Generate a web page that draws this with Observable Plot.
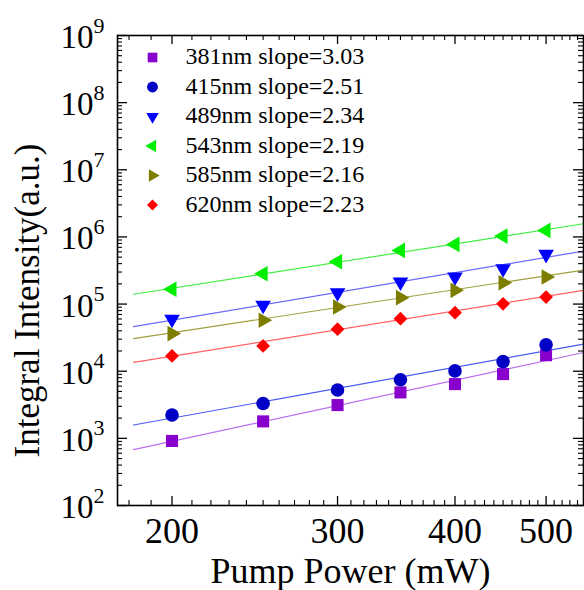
<!DOCTYPE html>
<html><head><meta charset="utf-8">
<script src="https://cdn.jsdelivr.net/npm/d3@7"></script>
<script src="https://cdn.jsdelivr.net/npm/@observablehq/plot@0.6"></script>
<style>body{margin:0;background:#fff}</style>
</head><body><div id="chart"></div>
<script>
// ---- data ----
const power = [200, 250, 300, 350, 400, 450, 500];
const names = ["381nm slope=3.03", "415nm slope=2.51", "489nm slope=2.34", "543nm slope=2.19", "585nm slope=2.16", "620nm slope=2.23"];
const i381 = [915, 1790, 3130, 4830, 6430, 9060, 17300];
const i415 = [2230, 3310, 5240, 7450, 10100, 13900, 24700];
const i489 = [59400, 96000, 148000, 213000, 253000, 336000, 550000];
const i543 = [166000, 283000, 427000, 630000, 774000, 1030000, 1250000];
const i585 = [36300, 57400, 90600, 124500, 160000, 208000, 253000];
const i620 = [16900, 23800, 42200, 60700, 74500, 101000, 127000];
// fitted lines: value at the start power and at the end power
const fitPower = [182, 548];
const fitStart = [680, 1580, 46200, 140000, 30600, 13500];
const fitEnd = [19000, 25300, 615000, 1570000, 321000, 160000];
const xTicks = [200, 300, 400, 500];
const yTicks = [1e2, 1e3, 1e4, 1e5, 1e6, 1e7, 1e8, 1e9];

// ---- styles ----
const markColor = ["#8800cc", "#0000c4", "#0000ff", "#00ee00", "#7d7d00", "#ff0000"];
const lineColor = ["#b870f0", "#4a5cf0", "#6b6bff", "#44ee44", "#a0a040", "#ff6262"];
const symbols = ["square", "circle", "triangle", "triangle", "triangle", "square"];
const rotations = [0, 0, 180, -90, 90, 45];
const radii = [6.8, 6.8, 5.8, 5.8, 5.8, 5.5];
const values = [i381, i415, i489, i543, i585, i620];

const W = 584, H = 590, mL = 117, mR = 1, mT = 35, mB = 85;
const fw = W - mL - mR, fh = H - mT - mB;

const minorX = d3.range(180, 550, 10).filter(v => !xTicks.includes(v));
const minorY = [];
for (let k = 2; k < 9; k++) for (let m = 2; m <= 9; m++) minorY.push(m * 10 ** k);

const marks = [];
// fit lines
values.forEach((v, i) => {
  marks.push(Plot.line(fitPower.map((p, j) => ({p, v: j === 0 ? fitStart[i] : fitEnd[i]})),
    {x: "p", y: "v", stroke: lineColor[i], strokeWidth: 1.2}));
});
// data points
values.forEach((v, i) => {
  marks.push(Plot.dot(power.map((p, j) => ({p, v: v[j]})),
    {x: "p", y: "v", symbol: symbols[i], rotate: rotations[i], r: radii[i], fill: markColor[i]}));
});
// inward ticks on all four sides
marks.push(
  Plot.tickX(xTicks, {x: d => d, insetTop: fh - 9, stroke: "black", strokeWidth: 1.3}),
  Plot.tickX(xTicks, {x: d => d, insetBottom: fh - 9, stroke: "black", strokeWidth: 1.3}),
  Plot.tickX(minorX, {x: d => d, insetTop: fh - 5, stroke: "black", strokeWidth: 1.1}),
  Plot.tickX(minorX, {x: d => d, insetBottom: fh - 5, stroke: "black", strokeWidth: 1.1}),
  Plot.tickY(yTicks, {y: d => d, insetRight: fw - 10, stroke: "black", strokeWidth: 1.3}),
  Plot.tickY(yTicks, {y: d => d, insetLeft: fw - 10, stroke: "black", strokeWidth: 1.3}),
  Plot.tickY(minorY, {y: d => d, insetRight: fw - 5, stroke: "black", strokeWidth: 1.1}),
  Plot.tickY(minorY, {y: d => d, insetLeft: fw - 5, stroke: "black", strokeWidth: 1.1}),
  Plot.frame({stroke: "black", strokeWidth: 1.6})
);
// tick labels
marks.push(
  Plot.text(xTicks, {x: d => d, frameAnchor: "bottom", text: d => String(d), lineAnchor: "middle", dy: 26, fontSize: 36, fill: "black"}),
  Plot.text(yTicks, {y: d => d, frameAnchor: "left", text: () => "10", textAnchor: "end", lineAnchor: "middle", dx: -24, dy: 2, fontSize: 33, fill: "black"}),
  Plot.text(yTicks, {y: d => d, frameAnchor: "left", text: d => String(Math.round(Math.log10(d))), textAnchor: "start", lineAnchor: "middle", dx: -24, dy: -10, fontSize: 22, fill: "black"})
);
// axis titles
marks.push(
  Plot.text(["Pump Power (mW)"], {frameAnchor: "bottom", text: d => d, textAnchor: "middle", lineAnchor: "bottom", dy: 77, fontSize: 36, fill: "black"}),
  Plot.text(["Integral Intensity(a.u.)"], {frameAnchor: "left", text: d => d, rotate: -90, textAnchor: "middle", lineAnchor: "middle", dx: -90, dy: 30, fontSize: 35, fill: "black"})
);
// legend inside the frame
names.forEach((n, i) => {
  marks.push(
    Plot.dot([n], {frameAnchor: "top-left", dx: 35, dy: 22 + 29.5 * i, symbol: symbols[i], rotate: rotations[i], r: radii[i] * 0.8, fill: markColor[i]}),
    Plot.text([n], {frameAnchor: "top-left", text: d => d, dx: 68, dy: 21 + 29.5 * i, textAnchor: "start", lineAnchor: "middle", fontSize: 24, fill: "black"})
  );
});

const chart = Plot.plot({
  width: W, height: H,
  marginLeft: mL, marginRight: mR, marginTop: mT, marginBottom: mB,
  style: {background: "white", fontFamily: "'Liberation Serif', 'Times New Roman', serif", overflow: "visible"},
  x: {type: "log", domain: [175, 548], axis: null},
  y: {type: "log", domain: [1e2, 1e9], axis: null},
  marks
});
document.getElementById("chart").appendChild(chart);
</script>
</body></html>
